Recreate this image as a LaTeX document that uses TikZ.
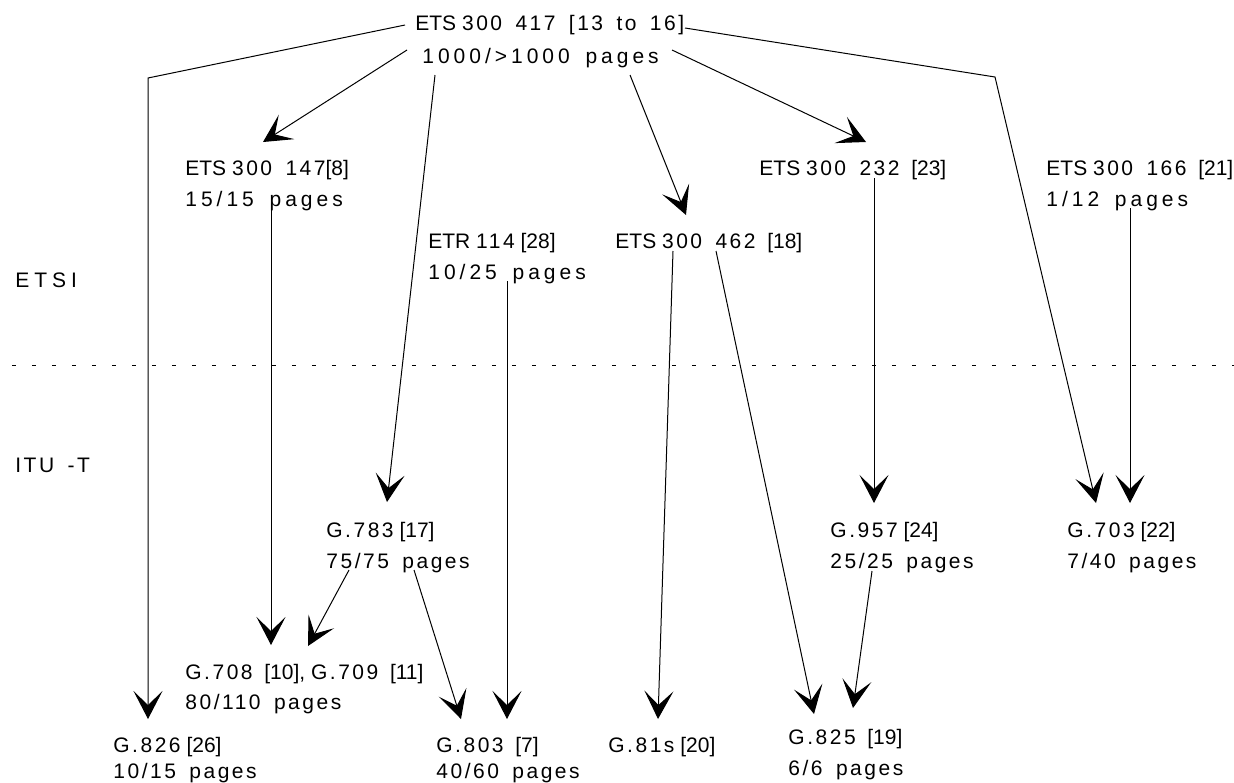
\documentclass[tikz,border=0pt]{standalone}
\usepackage{fontspec}
\setmainfont{Liberation Sans}
\newfontfamily\letras[LetterSpace=12, WordSpace=1.6]{Liberation Sans}
\newfontfamily\letrasb[LetterSpace=19, WordSpace=1.6]{Liberation Sans}
\usetikzlibrary{arrows.meta, positioning}

\begin{document}
\begin{tikzpicture}[x=0.5pt, y=-0.5pt,
  lbl/.style={anchor=base west, inner sep=0pt, font=\fontsize{10.5}{12}\selectfont},
  flecha/.style={-{Stealth[length=14pt, width=14.5pt, inset=7pt]}, line width=0.5pt}]
\useasboundingbox (0,0) rectangle (1234,782);
% Linea divisoria ETSI / ITU-T
\draw[line width=0.5pt, dash pattern=on 2pt off 8pt] (12,365) -- (1234,365);
\node[lbl] (etsi) at (15,287) {E\hspace{2.5pt}T\hspace{2.5pt}S\hspace{2.5pt}I};
\node[lbl] (itut) at (15,472) {\letras ITU -T};
% Normas ETSI
\node[lbl] (t417) at (415,30) {ETS {\letras 300 417 [13 to 16]}};
\node[lbl] (t417p) at (422,63) {\letrasb 1000/>1000 pages};
\node[lbl] (e147) at (185,175) {ETS {\letras 300 147}[8]};
\node[lbl] (e147p) at (185,206) {\letrasb 15/15 pages};
\node[lbl] (e232) at (759,175) {ETS {\letras 300 232}\ \ [23]};
\node[lbl] (e166) at (1046,175) {ETS {\letras 300 166}\ \ [21]};
\node[lbl] (e166p) at (1046,206) {\letrasb 1/12 pages};
\node[lbl] (r114) at (428,248) {ETR {\letras 114} [28]};
\node[lbl] (r114p) at (428,279) {\letrasb 10/25 pages};
\node[lbl] (e462) at (615,248) {ETS {\letras 300 462}\ \ [18]};
% Recomendaciones ITU-T
\node[lbl] (g783) at (326,537) {{\letras G.783}\ [17]};
\node[lbl] (g783p) at (326,568) {\letras 75/75 pages};
\node[lbl] (g957) at (830,537) {{\letras G.957}\ [24]};
\node[lbl] (g957p) at (830,568) {\letras 25/25 pages};
\node[lbl] (g703) at (1067,537) {{\letras G.703}\ [22]};
\node[lbl] (g703p) at (1067,568) {\letras 7/40 pages};
\node[lbl] (g708) at (185,679) {{\letras G.708}\ \ [10], {\letras G.709}\ \ [11]};
\node[lbl] (g708p) at (185,709) {\letras 80/110 pages};
\node[lbl] (g826) at (113,752) {{\letras G.826}\ [26]};
\node[lbl] (g826p) at (113,778) {\letras 10/15 pages};
\node[lbl] (g803) at (436,752) {{\letras G.803}\ \ [7]};
\node[lbl] (g803p) at (436,778) {\letras 40/60 pages};
\node[lbl] (g81s) at (608,752) {{\letras G.81s}\ [20]};
\node[lbl] (g825) at (788,744) {{\letras G.825}\ \ [19]};
\node[lbl] (g825p) at (788,775) {\letras 6/6 pages};
% Puntos de quiebre
\coordinate (q1) at (148,78);
\coordinate (q2) at (995,77);
% Flechas desde ETS 300 417
\draw[flecha] ([shift={(-10,-5)}]t417.base west) -- (q1) -- ([shift={(35,-33)}]g826.base west);
\draw[flecha] ([shift={(-15,-13)}]t417p.base west) -- ([shift={(78,-33)}]e147.base west);
\draw[flecha] ([shift={(13,12)}]t417p.base west) -- ([shift={(61,-35)}]g783.base west);
\draw[flecha] ([shift={(208,12)}]t417p.base west) -- ([shift={(71,-33)}]e462.base west);
\draw[flecha] ([shift={(250,-13)}]t417p.base west) -- ([shift={(107,-33)}]e232.base west);
\draw[flecha] ([shift={(270,-2)}]t417.base west) -- (q2) -- ([shift={(29,-34)}]g703.base west);
% Resto de flechas
\draw[flecha] ([shift={(86,4)}]e147p.base west) -- ([shift={(86,-34)}]g708.base west);
\draw[flecha] ([shift={(23,2)}]g783p.base west) -- ([shift={(123,-33)}]g708.base west);
\draw[flecha] ([shift={(88,2)}]g783p.base west) -- ([shift={(25,-33)}]g803.base west);
\draw[flecha] ([shift={(79,2)}]r114p.base west) -- ([shift={(71,-33)}]g803.base west);
\draw[flecha] ([shift={(58,3)}]e462.base west) -- ([shift={(50,-33)}]g81s.base west);
\draw[flecha] ([shift={(101,3)}]e462.base west) -- ([shift={(26,-30)}]g825.base west);
\draw[flecha] ([shift={(42,3)}]g957p.base west) -- ([shift={(65,-36)}]g825.base west);
\draw[flecha] ([shift={(115,3)}]e232.base west) -- ([shift={(44,-34)}]g957.base west);
\draw[flecha] ([shift={(84,2)}]e166p.base west) -- ([shift={(63,-34)}]g703.base west);
\end{tikzpicture}
\end{document}
